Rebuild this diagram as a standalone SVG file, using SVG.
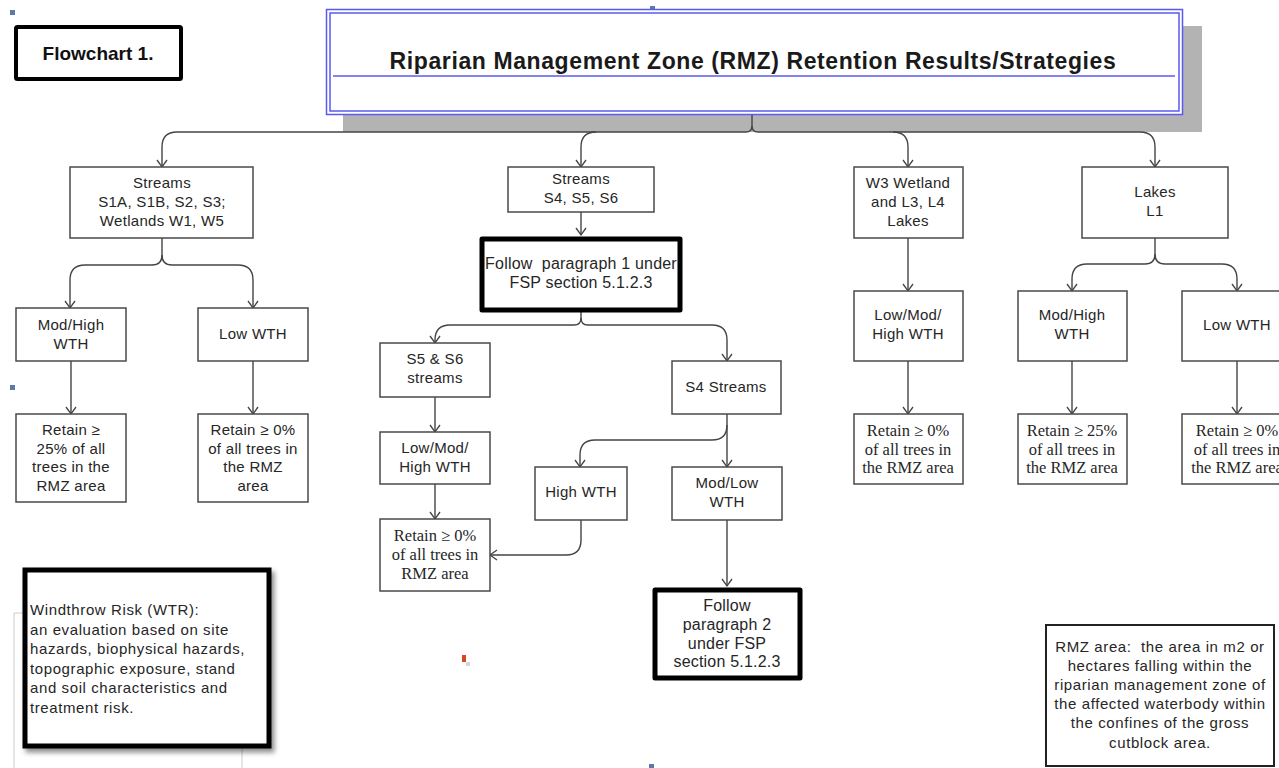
<svg xmlns="http://www.w3.org/2000/svg" width="1279" height="768" viewBox="0 0 1279 768">
<style>
.bx{fill:#fff;stroke:#4a4a4a;stroke-width:1.5}
.thick{fill:#fff;stroke:#000;stroke-width:5;stroke-linejoin:round}
.t{font-family:"Liberation Sans",Arial,sans-serif;font-size:15px;letter-spacing:0.3px;fill:#262626;text-anchor:middle}
.f{font-family:"Liberation Sans",Arial,sans-serif;font-size:16px;letter-spacing:0.2px;fill:#262626;text-anchor:middle;white-space:pre}
.s{font-family:"Liberation Serif","Times New Roman",serif;font-size:16.5px;fill:#262626;text-anchor:middle}
.w{font-family:"Liberation Sans",Arial,sans-serif;font-size:15px;letter-spacing:0.6px;fill:#262626}
.c{fill:none;stroke:#444;stroke-width:1.4}
.h{fill:#5b7aa6}
</style>
<defs>
<marker id="ah" viewBox="-9 -6 11 12" refX="0" refY="0" markerWidth="11" markerHeight="12" markerUnits="userSpaceOnUse" orient="auto">
<path d="M-7,-5 L0,0 L-7,5" fill="none" stroke="#444" stroke-width="1.3"/>
</marker>
<filter id="sh" x="-10%" y="-10%" width="130%" height="130%">
<feDropShadow dx="3" dy="4" stdDeviation="2.5" flood-color="#000" flood-opacity="0.45"/>
</filter>
</defs>
<rect width="1279" height="768" fill="#fff"/>

<g id="handles">
<rect class="h" x="10" y="10" width="5" height="5"/>
<rect class="h" x="650" y="6" width="5" height="5"/>
<rect class="h" x="10" y="385" width="5" height="5"/>
<rect class="h" x="649" y="764" width="5" height="5"/>
<rect x="462" y="655" width="4" height="7" fill="#d04a2a"/>
<rect x="466" y="662" width="4" height="4" fill="#bbb" opacity="0.6"/>
<path d="M24,613 H14 V768 M242,742 V768" fill="none" stroke="#ccc" stroke-width="1"/>
</g>

<g id="flowchart-label">
<rect x="16" y="27" width="165" height="52" fill="#fff" stroke="#000" stroke-width="4" rx="1.5"/>
<text x="98" y="60" font-family="Liberation Sans,Arial,sans-serif" font-weight="bold" font-size="19" fill="#111" text-anchor="middle">Flowchart 1.</text>
</g>

<g id="title">
<rect x="343" y="26" width="859" height="106" fill="#b3b3b3"/>
<rect x="326.5" y="9.5" width="856" height="105" fill="#fff" stroke="#5a5af0" stroke-width="1.5"/>
<rect x="330" y="13" width="849" height="98" fill="none" stroke="#5a5af0" stroke-width="1.5"/>
<line x1="333" y1="76" x2="1175" y2="76" stroke="#5a5af0" stroke-width="1.5"/>
<text x="753" y="69" font-family="Liberation Sans,Arial,sans-serif" font-weight="bold" font-size="23" letter-spacing="0.6" fill="#1a1a1a" text-anchor="middle">Riparian Management Zone (RMZ) Retention Results/Strategies</text>
</g>

<g id="connectors">
<path class="c" d="M752,115 L752,126 Q752,132 746,132 L177,132 Q162,132 162,147 L162,167" marker-end="url(#ah)"/>
<path class="c" d="M752,126 Q752,132 758,132 L1140,132 Q1155,132 1155,147 L1155,167" marker-end="url(#ah)"/>
<path class="c" d="M596,132 Q581,132 581,147 L581,167" marker-end="url(#ah)"/>
<path class="c" d="M893,132 Q908,132 908,147 L908,167" marker-end="url(#ah)"/>

<path class="c" d="M162,238 L162,255 Q162,265 152,265 L85,265 Q70,265 70,280 L70,308" marker-end="url(#ah)"/>
<path class="c" d="M162,255 Q162,265 172,265 L238,265 Q253,265 253,280 L253,308" marker-end="url(#ah)"/>
<path class="c" d="M71,361 L71,414" marker-end="url(#ah)"/>
<path class="c" d="M253,361 L253,414" marker-end="url(#ah)"/>

<path class="c" d="M581,212 L581,235" marker-end="url(#ah)"/>
<path class="c" d="M581,312 L581,318 Q581,325 574,325 L450,325 Q435,325 435,340 L435,343" marker-end="url(#ah)"/>
<path class="c" d="M581,318 Q581,325 588,325 L712,325 Q727,325 727,340 L727,361" marker-end="url(#ah)"/>
<path class="c" d="M435,397 L435,432" marker-end="url(#ah)"/>
<path class="c" d="M435,484 L435,519" marker-end="url(#ah)"/>
<path class="c" d="M727,414 L727,467" marker-end="url(#ah)"/>
<path class="c" d="M727,425 Q727,440 712,440 L595,440 Q580,440 580,455 L580,467" marker-end="url(#ah)"/>
<path class="c" d="M581,520 L581,540 Q581,555 566,555 L490,555" marker-end="url(#ah)"/>
<path class="c" d="M727,520 L727,586" marker-end="url(#ah)"/>

<path class="c" d="M908,238 L908,291" marker-end="url(#ah)"/>
<path class="c" d="M908,361 L908,414" marker-end="url(#ah)"/>
<path class="c" d="M1155,238 L1155,254 Q1155,264 1145,264 L1087,264 Q1072,264 1072,279 L1072,291" marker-end="url(#ah)"/>
<path class="c" d="M1155,254 Q1155,264 1165,264 L1222,264 Q1237,264 1237,279 L1237,291" marker-end="url(#ah)"/>
<path class="c" d="M1072,361 L1072,414" marker-end="url(#ah)"/>
<path class="c" d="M1237,361 L1237,414" marker-end="url(#ah)"/>
</g>

<g id="n-streams-s1">
<rect class="bx" x="70" y="167" width="183" height="71"/>
<text class="t" x="162" y="188">Streams</text>
<text class="t" x="162" y="207">S1A, S1B, S2, S3;</text>
<text class="t" x="162" y="226">Wetlands W1, W5</text>
</g>
<g id="n-modhigh-1">
<rect class="bx" x="16" y="308" width="110" height="53"/>
<text class="t" x="71" y="330">Mod/High</text>
<text class="t" x="71" y="349">WTH</text>
</g>
<g id="n-low-1">
<rect class="bx" x="198" y="308" width="110" height="53"/>
<text class="t" x="253" y="339">Low WTH</text>
</g>
<g id="n-retain25-1">
<rect class="bx" x="16" y="414" width="110" height="88"/>
<text class="t" x="71" y="435">Retain ≥</text>
<text class="t" x="71" y="454">25% of all</text>
<text class="t" x="71" y="472">trees in the</text>
<text class="t" x="71" y="491">RMZ area</text>
</g>
<g id="n-retain0-1">
<rect class="bx" x="198" y="414" width="110" height="88"/>
<text class="t" x="253" y="435">Retain ≥ 0%</text>
<text class="t" x="253" y="454">of all trees in</text>
<text class="t" x="253" y="472">the RMZ</text>
<text class="t" x="253" y="491">area</text>
</g>

<g id="n-streams-s4">
<rect class="bx" x="508" y="167" width="146" height="45"/>
<text class="t" x="581" y="184">Streams</text>
<text class="t" x="581" y="203">S4, S5, S6</text>
</g>
<g id="n-follow1">
<rect class="thick" x="482" y="239" width="198" height="71"/>
<text class="f" x="581" y="269">Follow  paragraph 1 under</text>
<text class="f" x="581" y="288">FSP section 5.1.2.3</text>
</g>
<g id="n-s5s6">
<rect class="bx" x="380" y="343" width="110" height="54"/>
<text class="t" x="435" y="364">S5 &amp; S6</text>
<text class="t" x="435" y="383">streams</text>
</g>
<g id="n-s4">
<rect class="bx" x="672" y="361" width="109" height="53"/>
<text class="t" x="726" y="392">S4 Streams</text>
</g>
<g id="n-lowmodhigh-2">
<rect class="bx" x="380" y="432" width="110" height="52"/>
<text class="t" x="435" y="453">Low/Mod/</text>
<text class="t" x="435" y="472">High WTH</text>
</g>
<g id="n-retain0-2">
<rect class="bx" x="380" y="519" width="110" height="72"/>
<text class="s" x="435" y="541">Retain ≥ 0%</text>
<text class="s" x="435" y="560">of all trees in</text>
<text class="s" x="435" y="579">RMZ area</text>
</g>
<g id="n-high">
<rect class="bx" x="535" y="467" width="92" height="53"/>
<text class="t" x="581" y="497">High WTH</text>
</g>
<g id="n-modlow">
<rect class="bx" x="672" y="467" width="110" height="53"/>
<text class="t" x="727" y="488">Mod/Low</text>
<text class="t" x="727" y="507">WTH</text>
</g>
<g id="n-follow2">
<rect class="thick" x="655" y="590" width="145" height="88"/>
<text class="f" x="727" y="611">Follow</text>
<text class="f" x="727" y="630">paragraph 2</text>
<text class="f" x="727" y="649">under FSP</text>
<text class="f" x="727" y="667">section 5.1.2.3</text>
</g>

<g id="n-w3">
<rect class="bx" x="854" y="167" width="109" height="71"/>
<text class="t" x="908" y="188">W3 Wetland</text>
<text class="t" x="908" y="207">and L3, L4</text>
<text class="t" x="908" y="226">Lakes</text>
</g>
<g id="n-lowmodhigh-3">
<rect class="bx" x="854" y="291" width="109" height="70"/>
<text class="t" x="908" y="320">Low/Mod/</text>
<text class="t" x="908" y="339">High WTH</text>
</g>
<g id="n-retain0-3">
<rect class="bx" x="854" y="414" width="109" height="70"/>
<text class="s" x="908" y="436">Retain ≥ 0%</text>
<text class="s" x="908" y="455">of all trees in</text>
<text class="s" x="908" y="473">the RMZ area</text>
</g>

<g id="n-lakes">
<rect class="bx" x="1082" y="167" width="146" height="71"/>
<text class="t" x="1155" y="197">Lakes</text>
<text class="t" x="1155" y="216">L1</text>
</g>
<g id="n-modhigh-4">
<rect class="bx" x="1018" y="291" width="109" height="70"/>
<text class="t" x="1072" y="320">Mod/High</text>
<text class="t" x="1072" y="339">WTH</text>
</g>
<g id="n-low-4">
<rect class="bx" x="1182" y="291" width="110" height="70"/>
<text class="t" x="1237" y="330">Low WTH</text>
</g>
<g id="n-retain25-4">
<rect class="bx" x="1018" y="414" width="109" height="70"/>
<text class="s" x="1072" y="436">Retain ≥ 25%</text>
<text class="s" x="1072" y="455">of all trees in</text>
<text class="s" x="1072" y="473">the RMZ area</text>
</g>
<g id="n-retain0-4">
<rect class="bx" x="1182" y="414" width="110" height="70"/>
<text class="s" x="1237" y="436">Retain ≥ 0%</text>
<text class="s" x="1237" y="455">of all trees in</text>
<text class="s" x="1237" y="473">the RMZ area</text>
</g>

<g id="n-windthrow">
<rect x="25" y="570" width="244" height="176" fill="#fff" stroke="#000" stroke-width="5" filter="url(#sh)"/>
<text class="w" x="30" y="615">Windthrow Risk (WTR):</text>
<text class="w" x="30" y="635">an evaluation based on site</text>
<text class="w" x="30" y="654">hazards, biophysical hazards,</text>
<text class="w" x="30" y="674">topographic exposure, stand</text>
<text class="w" x="30" y="693">and soil characteristics and</text>
<text class="w" x="30" y="713">treatment risk.</text>
</g>

<g id="n-rmz-area">
<rect x="1046" y="625" width="228" height="141" fill="#fff" stroke="#222" stroke-width="2"/>
<text class="w" x="1160" y="652" text-anchor="middle" style="white-space:pre">RMZ area:  the area in m2 or</text>
<text class="w" x="1160" y="671" text-anchor="middle">hectares falling within the</text>
<text class="w" x="1160" y="690" text-anchor="middle">riparian management zone of</text>
<text class="w" x="1160" y="709" text-anchor="middle">the affected waterbody within</text>
<text class="w" x="1160" y="728" text-anchor="middle">the confines of the gross</text>
<text class="w" x="1160" y="748" text-anchor="middle">cutblock area.</text>
</g>
</svg>
